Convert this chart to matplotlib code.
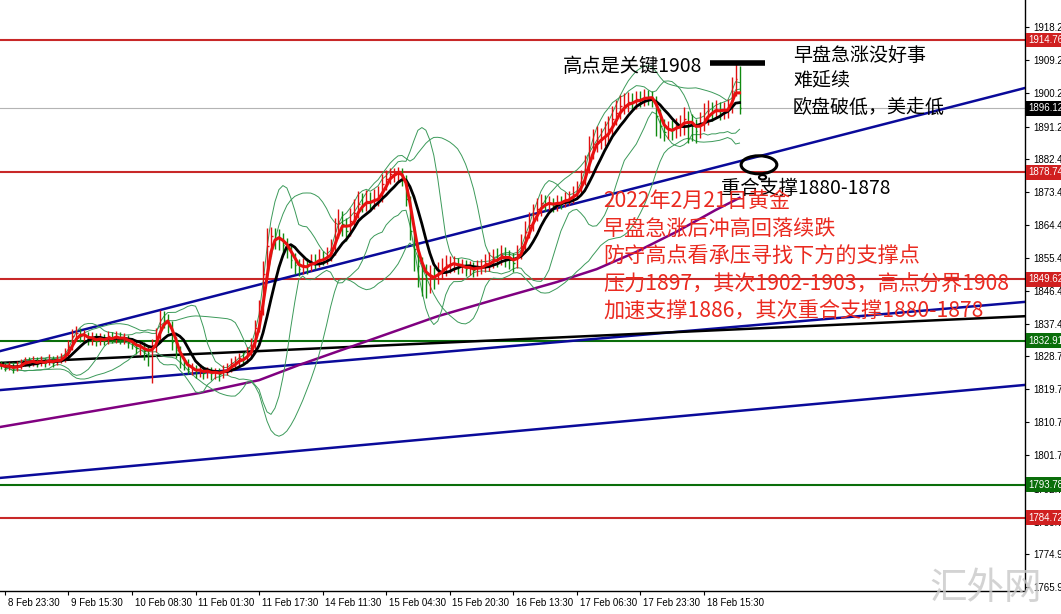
import matplotlib.pyplot as plt
import matplotlib.transforms as mtransforms
from matplotlib.patches import Ellipse
import numpy as np
import pandas as pd

# gold, 30 min bars 8-18 Feb 2022
time_labels = ["8 Feb 23:30", "9 Feb 15:30", "10 Feb 08:30", "11 Feb 01:30",
               "11 Feb 17:30", "14 Feb 11:30", "15 Feb 04:30", "15 Feb 20:30",
               "16 Feb 13:30", "17 Feb 06:30", "17 Feb 23:30", "18 Feb 15:30"]
label_bars = list(range(1, 178, 16))

closes = [
    1826.3, 1825.7, 1826.1, 1825.2, 1826.0, 1826.9, 1827.5, 1826.8, 1827.6, 1826.7,
    1827.4, 1826.9, 1827.8, 1827.0, 1827.7, 1828.1, 1829.4, 1831.2, 1834.1, 1835.0,
    1834.2, 1834.4, 1832.9, 1833.8, 1832.8, 1833.7, 1833.0, 1834.1, 1833.4, 1834.2,
    1833.3, 1833.5, 1832.5, 1832.1, 1830.9, 1831.4, 1830.2, 1829.5, 1831.6, 1834.2,
    1838.8, 1838.6, 1837.5, 1832.6, 1830.4, 1827.2, 1826.8, 1825.2, 1825.3, 1824.3,
    1825.2, 1824.2, 1824.6, 1824.1, 1824.3, 1824.0, 1825.0, 1825.3, 1826.9, 1827.1,
    1828.1, 1828.0, 1829.5, 1831.6, 1836.4, 1841.0, 1851.2, 1858.6, 1861.3, 1861.0,
    1860.6, 1859.1, 1857.9, 1855.0, 1853.6, 1852.4, 1853.5, 1853.2, 1854.4, 1854.3,
    1855.2, 1855.1, 1856.0, 1857.4, 1862.8, 1865.0, 1864.6, 1862.7, 1865.5, 1867.7,
    1870.2, 1870.1, 1871.0, 1870.6, 1871.5, 1872.0, 1875.6, 1877.0, 1878.3, 1878.4,
    1879.0, 1877.0, 1871.5, 1862.7, 1857.9, 1853.2, 1851.9, 1850.0, 1850.3, 1850.2,
    1851.9, 1852.4, 1853.8, 1853.9, 1854.0, 1853.0, 1853.3, 1852.4, 1852.9, 1852.1,
    1853.0, 1853.1, 1854.1, 1854.2, 1855.2, 1855.1, 1856.3, 1855.4, 1855.1, 1854.2,
    1856.5, 1858.8, 1862.5, 1864.4, 1867.4, 1868.7, 1870.4, 1870.2, 1870.3, 1869.8,
    1870.7, 1870.6, 1871.5, 1871.5, 1872.9, 1873.6, 1876.4, 1879.6, 1884.6, 1886.4,
    1887.8, 1887.8, 1889.2, 1890.5, 1893.3, 1894.9, 1896.8, 1897.0, 1897.9, 1897.8,
    1898.7, 1898.4, 1899.3, 1899.2, 1898.7, 1894.0, 1891.4, 1889.7, 1890.6, 1890.2,
    1891.4, 1891.6, 1893.3, 1892.1, 1891.7, 1890.0, 1892.2, 1893.5, 1895.5, 1895.1,
    1896.0, 1895.4, 1895.5, 1896.0, 1900.9, 1904.1, 1896.12]
highs = [
    1827.4, 1827.0, 1827.2, 1826.9, 1827.3, 1828.0, 1828.6, 1828.4, 1828.9, 1828.5,
    1828.7, 1828.2, 1829.3, 1828.8, 1829.0, 1829.5, 1831.0, 1833.0, 1836.2, 1837.0,
    1836.4, 1835.8, 1835.4, 1835.2, 1834.9, 1835.0, 1834.8, 1835.6, 1835.3, 1835.5,
    1835.2, 1834.9, 1834.6, 1833.8, 1833.2, 1832.7, 1832.5, 1831.6, 1833.5, 1836.5,
    1841.3, 1841.0, 1840.1, 1838.4, 1834.0, 1831.5, 1828.6, 1828.0, 1826.8, 1826.4,
    1826.5, 1826.0, 1825.9, 1825.7, 1825.6, 1825.5, 1826.3, 1826.9, 1828.3, 1828.8,
    1829.7, 1829.8, 1831.3, 1833.6, 1838.5, 1844.0, 1854.5, 1863.5, 1864.0, 1863.6,
    1863.2, 1862.3, 1861.0, 1859.2, 1856.8, 1855.3, 1855.4, 1855.5, 1856.6, 1856.5,
    1857.8, 1857.4, 1858.4, 1860.6, 1866.4, 1868.9, 1868.2, 1866.4, 1869.0, 1871.6,
    1873.8, 1873.0, 1873.9, 1873.4, 1874.3, 1875.0, 1878.2, 1879.4, 1880.0, 1879.9,
    1880.3, 1880.0, 1878.0, 1872.4, 1864.2, 1859.6, 1855.6, 1853.8, 1853.4, 1852.9,
    1854.4, 1855.5, 1856.3, 1856.0, 1855.9, 1855.4, 1855.1, 1854.8, 1854.6, 1854.3,
    1854.9, 1855.2, 1856.4, 1857.0, 1857.9, 1858.2, 1859.1, 1858.5, 1857.6, 1856.9,
    1859.0, 1862.0, 1865.6, 1867.9, 1870.2, 1871.8, 1872.9, 1872.6, 1872.2, 1871.9,
    1872.5, 1872.4, 1873.3, 1873.6, 1875.0, 1876.3, 1879.5, 1883.4, 1888.6, 1890.5,
    1891.4, 1890.9, 1892.6, 1894.1, 1896.8, 1898.5, 1899.9, 1900.2, 1900.6, 1900.4,
    1901.0, 1900.8, 1901.4, 1901.2, 1900.9, 1899.5, 1896.0, 1893.2, 1892.8, 1893.0,
    1893.6, 1894.4, 1896.6, 1895.4, 1894.6, 1893.3, 1895.3, 1897.6, 1898.4, 1897.9,
    1898.5, 1898.0, 1897.8, 1898.6, 1904.6, 1908.4, 1907.8]
lows = [
    1825.1, 1824.6, 1824.9, 1824.2, 1824.6, 1825.3, 1826.0, 1825.9, 1826.1, 1825.8,
    1826.0, 1825.7, 1826.2, 1825.9, 1826.3, 1826.8, 1827.2, 1828.5, 1830.4, 1832.8,
    1832.6, 1832.9, 1831.8, 1831.9, 1831.5, 1831.9, 1831.8, 1832.1, 1832.3, 1832.4,
    1832.0, 1832.1, 1831.0, 1830.6, 1829.4, 1829.0, 1827.8, 1826.0, 1821.4, 1829.8,
    1833.0, 1836.3, 1835.0, 1830.5, 1828.2, 1825.6, 1825.0, 1823.8, 1823.5, 1822.9,
    1823.0, 1822.6, 1822.8, 1822.3, 1822.6, 1822.0, 1822.8, 1823.7, 1824.4, 1825.6,
    1826.0, 1826.6, 1826.9, 1828.4, 1830.5, 1835.2, 1839.8, 1849.6, 1856.0, 1857.8,
    1857.5, 1856.6, 1855.5, 1852.8, 1851.2, 1850.6, 1851.0, 1851.2, 1851.8, 1852.4,
    1853.0, 1853.4, 1853.8, 1854.6, 1856.3, 1860.8, 1861.5, 1860.2, 1861.4, 1864.1,
    1866.2, 1867.9, 1868.2, 1868.5, 1868.9, 1869.6, 1870.8, 1874.0, 1875.6, 1876.2,
    1876.5, 1875.1, 1869.6, 1860.3, 1852.0, 1847.5, 1845.0, 1844.6, 1845.8, 1846.9,
    1848.3, 1849.8, 1850.6, 1851.4, 1851.7, 1851.0, 1851.3, 1850.6, 1850.9, 1850.2,
    1850.5, 1851.1, 1851.6, 1852.0, 1852.6, 1852.9, 1853.4, 1853.1, 1852.5, 1851.6,
    1852.6, 1855.2, 1857.4, 1860.8, 1862.9, 1865.6, 1867.0, 1868.1, 1868.4, 1867.9,
    1868.3, 1868.9, 1869.2, 1869.8, 1870.3, 1871.5, 1872.6, 1875.2, 1878.5, 1882.5,
    1884.2, 1885.0, 1885.9, 1887.1, 1889.0, 1891.6, 1893.2, 1894.6, 1895.2, 1895.6,
    1896.0, 1896.5, 1896.9, 1897.2, 1896.6, 1888.6, 1888.0, 1887.4, 1887.9, 1887.5,
    1888.0, 1888.6, 1889.0, 1886.7, 1887.2, 1886.8, 1888.1, 1890.0, 1891.6, 1892.7,
    1893.4, 1893.0, 1893.2, 1893.5, 1895.0, 1899.4, 1894.5]
first_open = 1826.5

# purple long MA, read every few bars
purple_bars = [0, 25, 50, 65, 75, 85, 100, 110, 125, 140, 150, 160, 170, 180, 186]
purple_vals = [1809.5, 1814.1, 1818.7, 1822.2, 1826.3, 1830.1, 1835.8, 1839.6,
               1844.3, 1848.9, 1852.4, 1857.1, 1862.5, 1868.5, 1871.8]

red_levels = [1914.76, 1878.74, 1849.62, 1784.72]
green_levels = [1832.91, 1793.78]
last_price = 1896.12

# trend lines, price at left and right edge of the window
trend_bars = [-0.25, 257.9]
blue_trends = [[1830.1, 1901.7], [1819.5, 1843.5], [1795.6, 1820.9]]
black_trend = [1826.9, 1839.6]

ytick_vals = [1918.20, 1909.20, 1900.20, 1891.20, 1882.45, 1873.45, 1864.45,
              1855.45, 1846.45, 1837.45, 1828.70, 1819.70, 1810.70, 1801.70,
              1792.70, 1783.70, 1774.95, 1765.95]

cjk = ['Noto Sans CJK SC', 'DejaVu Sans']
plt.rcParams['font.family'] = ['Liberation Sans', 'DejaVu Sans']

fig = plt.figure(figsize=(10.61, 6.14), dpi=100)
ax = fig.add_axes([0, 23 / 614, 1025 / 1061, 591 / 614])
ax.set_xlim(-0.25, 257.9)
ax.set_ylim(1764.83, 1925.64)

n = len(closes)
idx = np.arange(n)
opens = [first_open] + closes[:-1]
s = pd.Series(closes)

# horizontal levels and trend lines
for lv in red_levels:
    ax.axhline(lv, color='#c82828', lw=1.5, zorder=1)
for lv in green_levels:
    ax.axhline(lv, color='#0a6e0a', lw=1.5, zorder=1)
ax.axhline(last_price, color='#b4b4b4', lw=0.8, zorder=1)
for tr in blue_trends:
    ax.plot(trend_bars, tr, color='#0a0a9a', lw=1.8, zorder=2)
ax.plot(trend_bars, black_trend, color='black', lw=1.8, zorder=2)
ax.plot(purple_bars, purple_vals, color='#800080', lw=1.8, zorder=2)

# bollinger style envelopes
for per in [10, 20]:
    mid = s.rolling(per, min_periods=2).mean()
    sd = s.rolling(per, min_periods=2).std()
    ax.plot(idx, mid + 2 * sd, color='#3c9a5a', lw=0.7, zorder=2)
    ax.plot(idx, mid - 2 * sd, color='#3c9a5a', lw=0.7, zorder=2)

# price bars
cols = ['#e01010' if c >= o else '#108a10' for o, c in zip(opens, closes)]
ax.vlines(idx, lows, highs, colors=cols, lw=1, zorder=3)
ax.hlines(closes, idx, idx + 0.4, colors=cols, lw=1, zorder=3)

ax.plot(idx, s.rolling(7, min_periods=1).mean(), color='black', lw=2, zorder=4)
ax.plot(idx, s.rolling(3, min_periods=1).mean(), color='#e81010', lw=2.2, zorder=4)

# marks drawn on the chart
ax.plot([178.6, 192.4], [1908.5, 1908.5], color='black', lw=4, solid_capstyle='butt', zorder=5)
ax.add_patch(Ellipse((190.9, 1880.8), 9.0, 4.9, fill=False, ec='black', lw=2.2, zorder=5))
ax.add_patch(Ellipse((191.8, 1877.4), 1.8, 1.2, fill=False, ec='black', lw=1.5, zorder=5))

def px(x, y):
    return x / 1025, 1 - y / 591

ax.text(*px(563, 66), "高点是关键1908", transform=ax.transAxes, fontsize=13.9,
        family=cjk, va='center', ha='left', zorder=6)
for k, line in enumerate(["早盘急涨没好事", "难延续", "欧盘破低，美走低"]):
    ax.text(*px(793, 55 + 26 * k), line, transform=ax.transAxes, fontsize=13.7,
            family=cjk, va='center', ha='left', zorder=6)
ax.text(*px(721, 188), "重合支撑1880-1878", transform=ax.transAxes, fontsize=13.9,
        family=cjk, va='center', ha='left', zorder=6)
red_lines = ["2022年2月21日黄金", "早盘急涨后冲高回落续跌", "防守高点看承压寻找下方的支撑点",
             "压力1897，其次1902-1903，高点分界1908", "加速支撑1886，其次重合支撑1880-1878"]
for k, line in enumerate(red_lines):
    ax.text(*px(603, 202 + 27.5 * k), line, transform=ax.transAxes, fontsize=15.2,
            family=cjk, color='#ea2a20', va='center', ha='left', zorder=6)

# axes in MT4 style
for sp in ['left', 'top']:
    ax.spines[sp].set_visible(False)
ax.spines['right'].set_linewidth(1)
ax.spines['bottom'].set_linewidth(1)
ax.yaxis.tick_right()
ax.set_yticks(ytick_vals)
ax.set_yticklabels([f"{v:.2f}" for v in ytick_vals])
ax.tick_params(axis='y', direction='out', length=3, pad=3, labelsize=7)
ax.set_xticks(label_bars)
ax.set_xticklabels(time_labels)
ax.tick_params(axis='x', direction='out', length=3, pad=2, labelsize=7)
shift = mtransforms.ScaledTranslation(2 / 72, 0, fig.dpi_scale_trans)
for lab in ax.get_xticklabels():
    lab.set_ha('left')
    lab.set_transform(lab.get_transform() + shift)

# coloured price tags on the scale
trans = mtransforms.blended_transform_factory(ax.transAxes, ax.transData)
tags = [(v, '#d02020') for v in red_levels] + [(v, '#0a6e0a') for v in green_levels]
tags.append((last_price, 'black'))
for v, c in tags:
    ax.text(1.003, v, f"{v:.2f}", transform=trans, fontsize=7, color='white',
            va='center', ha='left', zorder=7, clip_on=False,
            bbox=dict(boxstyle='square,pad=0.25', fc=c, ec='none'))

fig.text(0.876, 0.042, "汇外网", fontsize=27, family=cjk, color='#c8c8c8',
         va='center', ha='left', alpha=0.8)

fig.savefig('out.png', dpi=100)
